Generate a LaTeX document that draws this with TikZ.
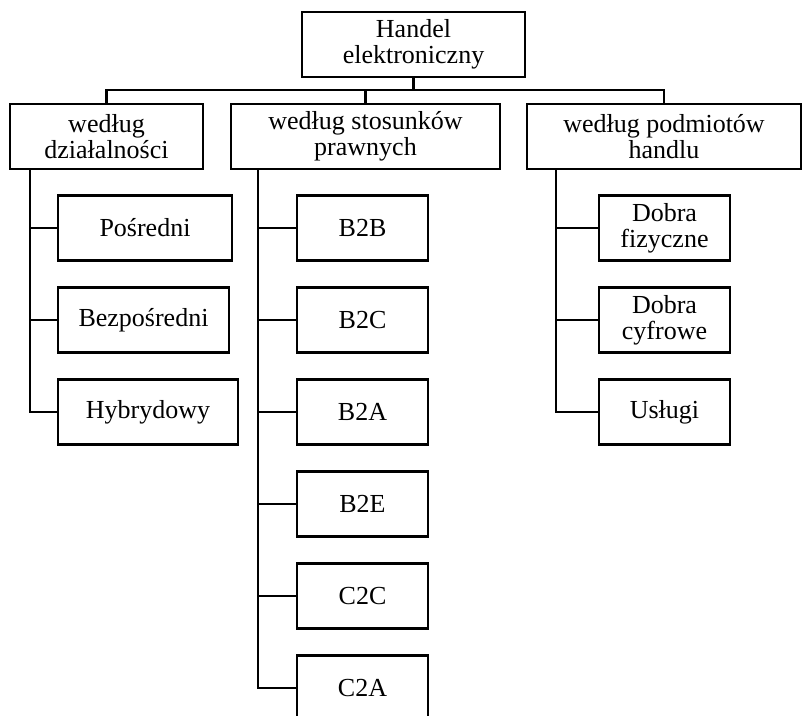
\documentclass[tikz,border=0pt]{standalone}
\usepackage{fontspec}
\setmainfont{Liberation Serif}
\begin{document}
\begin{tikzpicture}[x=1pt,y=-1pt,
  box/.style={draw,line width=2.6pt,align=center,inner sep=0pt,
    minimum height=65pt,font=\fontsize{26}{25.7}\selectfont},
  link/.style={draw,line width=2.1pt}]
\useasboundingbox (0,0) rectangle (803,715);
\clip (0,0) rectangle (803,715);

% root and the three classification criteria
\node[box,minimum width=223pt] (root) at (413.5,44.5) {Handel\\elektroniczny};
\node[box,minimum width=193pt] (act) at (106.5,136.5) {według\\działalności};
\node[box,minimum width=269pt] (law) at (365.5,136.5) {według stosunków\\prawnych};
\node[box,minimum width=274pt] (sub) at (664,136.5) {według podmiotów\\handlu};

% first branch
\node[box,minimum width=174pt] (po) at (145,228) {Pośredni};
\node[box,minimum width=171pt] (be) at (143.5,320) {Bezpośredni};
\node[box,minimum width=180pt] (hy) at (148,412) {Hybrydowy};

% second branch
\node[box,minimum width=131pt] (bb) at (362.5,228) {B2B};
\node[box,minimum width=131pt] (bc) at (362.5,320) {B2C};
\node[box,minimum width=131pt] (ba) at (362.5,412) {B2A};
\node[box,minimum width=131pt] (bee) at (362.5,504) {B2E};
\node[box,minimum width=131pt] (cc) at (362.5,596) {C2C};
\node[box,minimum width=131pt] (ca) at (362.5,688) {C2A};

% third branch
\node[box,minimum width=131pt] (df) at (664.5,228) {Dobra\\fizyczne};
\node[box,minimum width=131pt] (dc) at (664.5,320) {Dobra\\cyfrowe};
\node[box,minimum width=131pt] (us) at (664.5,412) {Usługi};

% connectors from the root
\coordinate (bus) at (0,90);
\draw[link] (root.south) -- (root.south |- bus);
\draw[link] (act.north) -- (act.north |- bus) -- (sub.north |- bus) -- (sub.north);
\draw[link] (law.north) -- (law.north |- bus);

% trunks
\coordinate (t1) at (30,0);
\coordinate (t2) at (258,0);
\coordinate (t3) at (556,0);
\draw[link] (t1 |- act.south) |- (hy.west);
\draw[link] (t1 |- po.west) -- (po.west);
\draw[link] (t1 |- be.west) -- (be.west);

\draw[link] (t2 |- law.south) |- (ca.west);
\draw[link] (t2 |- bb.west) -- (bb.west);
\draw[link] (t2 |- bc.west) -- (bc.west);
\draw[link] (t2 |- ba.west) -- (ba.west);
\draw[link] (t2 |- bee.west) -- (bee.west);
\draw[link] (t2 |- cc.west) -- (cc.west);

\draw[link] (t3 |- sub.south) |- (us.west);
\draw[link] (t3 |- df.west) -- (df.west);
\draw[link] (t3 |- dc.west) -- (dc.west);
\end{tikzpicture}
\end{document}
